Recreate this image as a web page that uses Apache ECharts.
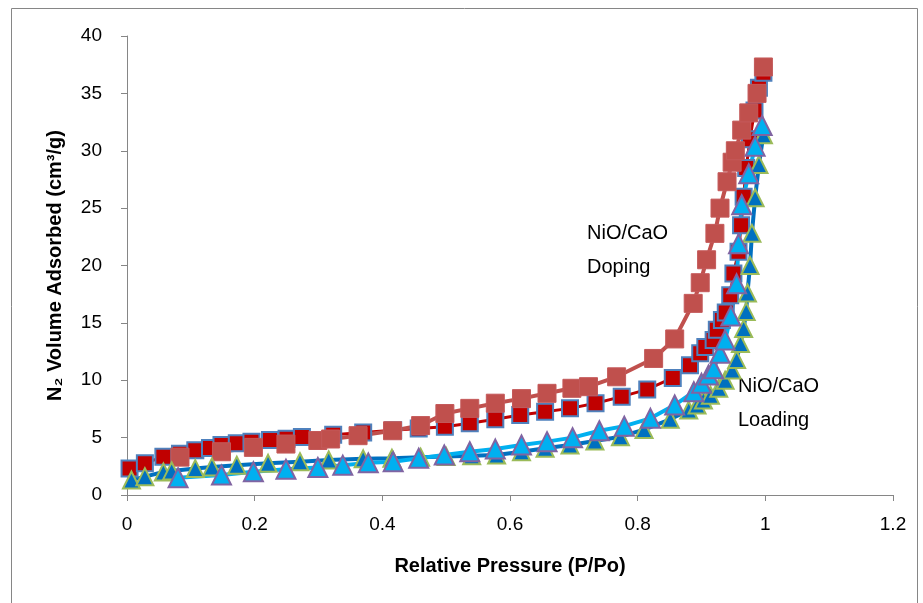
<!DOCTYPE html>
<html>
<head>
<meta charset="utf-8">
<script src="https://cdn.jsdelivr.net/npm/echarts@6/dist/echarts.min.js"></script>
<style>
  html, body { margin: 0; padding: 0; background: #fff; }
  #chart { width: 923px; height: 603px; }
</style>
</head>
<body>
<div id="chart"></div>
<script>
// NiO/CaO Doping - adsorption branch (dark red squares)
const dopingAdsX = [0.004, 0.028, 0.057, 0.083, 0.107, 0.13, 0.148, 0.172, 0.195, 0.224, 0.25, 0.274, 0.323, 0.37, 0.417, 0.457, 0.498, 0.537, 0.577, 0.616, 0.655, 0.694, 0.734, 0.775, 0.815, 0.855, 0.882, 0.898, 0.906, 0.919, 0.924, 0.932, 0.938, 0.945, 0.95, 0.958, 0.962, 0.966, 0.97, 0.976, 0.983, 0.99, 0.997];
const dopingAdsY = [2.3, 2.76, 3.34, 3.6, 3.9, 4.1, 4.36, 4.5, 4.65, 4.8, 4.9, 5.05, 5.25, 5.45, 5.65, 5.8, 5.95, 6.25, 6.6, 6.97, 7.26, 7.55, 8.0, 8.57, 9.2, 10.2, 11.3, 12.35, 12.9, 13.5, 14.4, 15.25, 15.9, 17.4, 19.3, 21.2, 23.5, 26.0, 28.5, 31.0, 33.5, 35.5, 36.8];

// NiO/CaO Doping - desorption branch (light red squares)
const dopingDesX = [0.083, 0.148, 0.198, 0.249, 0.299, 0.319, 0.362, 0.416, 0.46, 0.498, 0.537, 0.577, 0.618, 0.658, 0.697, 0.723, 0.767, 0.825, 0.858, 0.887, 0.898, 0.908, 0.921, 0.929, 0.94, 0.948, 0.953, 0.963, 0.974, 0.987, 0.997];
const dopingDesY = [3.3, 3.77, 4.15, 4.44, 4.75, 4.88, 5.17, 5.6, 6.05, 7.1, 7.55, 8.0, 8.4, 8.86, 9.3, 9.44, 10.3, 11.9, 13.6, 16.7, 18.5, 20.5, 22.8, 25.0, 27.3, 29.0, 30.0, 31.8, 33.3, 35.0, 37.3];

// NiO/CaO Loading - adsorption branch (dark blue triangles)
const loadingAdsX = [0.007, 0.028, 0.057, 0.07, 0.107, 0.133, 0.172, 0.221, 0.271, 0.316, 0.37, 0.415, 0.46, 0.5, 0.54, 0.579, 0.618, 0.655, 0.694, 0.733, 0.773, 0.81, 0.851, 0.88, 0.893, 0.903, 0.914, 0.927, 0.937, 0.948, 0.955, 0.961, 0.966, 0.97, 0.972, 0.976, 0.979, 0.984, 0.99, 0.997];
const loadingAdsY = [1.3, 1.6, 2.0, 2.1, 2.3, 2.45, 2.6, 2.76, 2.9, 3.05, 3.15, 3.2, 3.3, 3.35, 3.42, 3.49, 3.77, 4.07, 4.36, 4.7, 5.08, 5.7, 6.6, 7.4, 7.84, 8.28, 8.7, 9.3, 10.0, 10.9, 11.8, 13.2, 14.5, 16.0, 17.6, 20.0, 22.8, 25.9, 28.8, 31.4];

// NiO/CaO Loading - desorption branch (light blue triangles)
const loadingDesX = [0.08, 0.148, 0.198, 0.249, 0.299, 0.338, 0.378, 0.417, 0.457, 0.497, 0.537, 0.577, 0.618, 0.658, 0.698, 0.74, 0.779, 0.82, 0.858, 0.888, 0.9, 0.911, 0.919, 0.929, 0.937, 0.946, 0.955, 0.958, 0.963, 0.974, 0.984, 0.995];
const loadingDesY = [1.5, 1.74, 2.03, 2.25, 2.4, 2.6, 2.8, 2.9, 3.2, 3.49, 3.77, 4.0, 4.36, 4.65, 5.0, 5.6, 6.0, 6.68, 7.84, 9.0, 9.73, 10.46, 11.0, 12.35, 13.5, 15.6, 18.4, 21.9, 25.3, 28.0, 30.4, 32.2];

const pairs = (xs, ys) => xs.map((x, i) => [x, ys[i]]);

const font = '"Liberation Sans", Arial, sans-serif';
const chart = echarts.init(document.getElementById('chart'));

const option = {
  animation: false,
  backgroundColor: '#fff',
  textStyle: { fontFamily: font },
  grid: { left: 127, right: 30, top: 36, bottom: 108 },
  xAxis: {
    type: 'value',
    min: 0, max: 1.2, interval: 0.2,
    name: 'Relative Pressure (P/Po)',
    nameLocation: 'middle',
    nameGap: 61,
    nameTextStyle: { fontSize: 20, fontWeight: 'bold', color: '#000', fontFamily: font },
    axisLine: { show: true, lineStyle: { color: '#868686', width: 1 } },
    axisTick: { show: true, length: 6, lineStyle: { color: '#868686' } },
    axisLabel: { fontSize: 19, color: '#000', margin: 20, fontFamily: font },
    splitLine: { show: false }
  },
  yAxis: {
    type: 'value',
    min: 0, max: 40, interval: 5,
    name: 'N\u2082 Volume Adsorbed (cm\u00b3/g)',
    nameLocation: 'middle',
    nameGap: 62,
    nameTextStyle: { fontSize: 20, fontWeight: 'bold', color: '#000', fontFamily: font },
    axisLine: { show: true, lineStyle: { color: '#868686', width: 1 } },
    axisTick: { show: true, length: 6, lineStyle: { color: '#868686' } },
    axisLabel: { fontSize: 19, color: '#000', margin: 25, fontFamily: font },
    splitLine: { show: false }
  },
  series: [
    {
      name: 'Doping adsorption',
      type: 'line',
      data: pairs(dopingAdsX, dopingAdsY),
      symbol: 'rect',
      symbolSize: 16,
      lineStyle: { color: '#C00000', width: 3 },
      itemStyle: { color: '#C00000', borderColor: '#4F81BD', borderWidth: 2 }
    },
    {
      name: 'Doping desorption',
      type: 'line',
      data: pairs(dopingDesX, dopingDesY),
      symbol: 'rect',
      symbolSize: 18,
      lineStyle: { color: '#C0504D', width: 4 },
      itemStyle: { color: '#C0504D', borderColor: '#C4595A', borderWidth: 1 }
    },
    {
      name: 'Loading adsorption',
      type: 'line',
      data: pairs(loadingAdsX, loadingAdsY),
      symbol: 'triangle',
      symbolSize: 17,
      lineStyle: { color: '#0070C0', width: 4 },
      itemStyle: { color: '#0070C0', borderColor: '#9BBB59', borderWidth: 2 }
    },
    {
      name: 'Loading desorption',
      type: 'line',
      data: pairs(loadingDesX, loadingDesY),
      symbol: 'triangle',
      symbolSize: 19,
      lineStyle: { color: '#00B0F0', width: 4 },
      itemStyle: { color: '#00B0F0', borderColor: '#8064A2', borderWidth: 2 }
    }
  ],
  graphic: [
    {
      type: 'rect',
      shape: { x: 11.5, y: 8.5, width: 906, height: 620 },
      style: { fill: 'none', stroke: '#868686', lineWidth: 1 },
      silent: true
    },
    {
      type: 'text', left: 587, top: 216,
      style: { text: 'NiO/CaO\nDoping', font: '20px ' + font, fill: '#000', lineHeight: 34 }
    },
    {
      type: 'text', left: 738, top: 369,
      style: { text: 'NiO/CaO\nLoading', font: '20px ' + font, fill: '#000', lineHeight: 34 }
    }
  ]
};

chart.setOption(option);
</script>
</body>
</html>
